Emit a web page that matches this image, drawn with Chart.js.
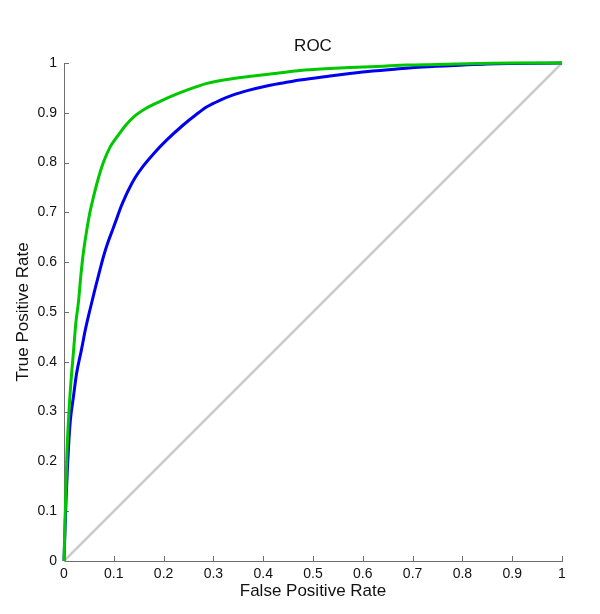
<!DOCTYPE html>
<html>
<head>
<meta charset="utf-8">
<script src="https://cdn.jsdelivr.net/npm/chart.js@4/dist/chart.umd.min.js"></script>
<style>
  body { margin: 0; background: #fff; }
</style>
</head>
<body>
<canvas id="roc" width="600" height="614"></canvas>
<script>
// valores
const tickVals = [0, 0.1, 0.2, 0.3, 0.4, 0.5, 0.6, 0.7, 0.8, 0.9, 1];
const tickLabels = ['0', '0.1', '0.2', '0.3', '0.4', '0.5', '0.6', '0.7', '0.8', '0.9', '1'];
const titulo = 'ROC';

const greenFpr = [0, 0.002, 0.004, 0.006, 0.010, 0.014, 0.019, 0.024, 0.029, 0.034, 0.039, 0.045, 0.052, 0.059,
  0.068, 0.079, 0.093, 0.109, 0.124, 0.139, 0.165, 0.193, 0.215, 0.240, 0.265, 0.287, 0.327, 0.38, 0.44,
  0.474, 0.534, 0.574, 0.63, 0.688, 0.75, 0.83, 0.9, 1];
const greenTpr = [0, 0.08, 0.15, 0.22, 0.30, 0.36, 0.42, 0.48, 0.52, 0.575, 0.62, 0.66, 0.70, 0.73,
  0.765, 0.80, 0.832, 0.855, 0.875, 0.891, 0.909, 0.923, 0.933, 0.943, 0.952, 0.959, 0.967, 0.974, 0.981,
  0.985, 0.989, 0.991, 0.993, 0.996, 0.997, 0.999, 1, 1];

const blueFpr = [0, 0.002, 0.004, 0.007, 0.010, 0.013, 0.019, 0.025, 0.035, 0.043, 0.052, 0.062, 0.072, 0.080,
  0.089, 0.098, 0.106, 0.112, 0.119, 0.128, 0.143, 0.159, 0.180, 0.206, 0.240, 0.265, 0.287, 0.315, 0.340, 0.37,
  0.407, 0.44, 0.474, 0.534, 0.574, 0.62, 0.668, 0.72, 0.802, 0.85, 0.9, 1];
const blueTpr = [0, 0.06, 0.12, 0.19, 0.245, 0.285, 0.33, 0.375, 0.424, 0.465, 0.504, 0.545, 0.584, 0.614,
  0.642, 0.666, 0.688, 0.705, 0.722, 0.742, 0.770, 0.793, 0.818, 0.845, 0.876, 0.896, 0.912, 0.926, 0.936, 0.945,
  0.954, 0.960, 0.966, 0.974, 0.979, 0.984, 0.988, 0.992, 0.996, 0.998, 0.999, 1];

const diagFpr = [0, 1];
const diagTpr = [0, 1];

const fonte = "'Liberation Sans', Arial, Helvetica, sans-serif";
const corEixo = '#6e6e6e';

function pares(xs, ys) {
  return xs.map((v, i) => ({ x: v, y: ys[i] }));
}

// marcas dos ticks para dentro e titulo centrado na area do grafico
const marcas = {
  id: 'marcas',
  beforeDatasetsDraw(chart) {
    const ctx = chart.ctx;
    const sx = chart.scales.x;
    const sy = chart.scales.y;
    ctx.save();
    ctx.strokeStyle = corEixo;
    ctx.lineWidth = 1;
    ctx.beginPath();
    for (const t of sx.ticks) {
      const px = Math.round(sx.getPixelForValue(t.value)) + 0.5;
      ctx.moveTo(px, sy.bottom);
      ctx.lineTo(px, sy.bottom - 5);
    }
    for (const t of sy.ticks) {
      const py = Math.round(sy.getPixelForValue(t.value)) + 0.5;
      ctx.moveTo(sx.left, py);
      ctx.lineTo(sx.left + 5, py);
    }
    ctx.stroke();

    const a = chart.chartArea;
    ctx.fillStyle = '#111';
    ctx.font = '17px ' + fonte;
    ctx.textAlign = 'center';
    ctx.textBaseline = 'middle';
    ctx.fillText(titulo, (a.left + a.right) / 2, 46.8);
    ctx.restore();
  }
};

const eixo = (texto, pad) => ({
  type: 'linear',
  min: 0,
  max: 1,
  grid: { display: false, drawTicks: false },
  border: { display: true, color: corEixo, width: 1 },
  afterBuildTicks: (s) => { s.ticks = tickVals.map(v => ({ value: v })); },
  ticks: {
    color: '#111',
    font: { family: fonte, size: 14 },
    callback: (v) => tickLabels[tickVals.indexOf(v)],
    maxRotation: 0,
    autoSkip: false
  },
  title: {
    display: true,
    text: texto,
    color: '#111',
    font: { family: fonte, size: 17 },
    padding: pad
  }
});

const xEixo = eixo('False Positive Rate', { top: 0, bottom: 12 });
xEixo.ticks.padding = 5;
xEixo.afterFit = (s) => { s.height = 53; };

const yEixo = eixo('True Positive Rate', { top: 13, bottom: 0 });
yEixo.ticks.padding = 7;
yEixo.afterFit = (s) => { s.width = 64; };

const linha = { showLine: true, pointRadius: 0, clip: 4, cubicInterpolationMode: 'monotone' };

new Chart(document.getElementById('roc'), {
  type: 'scatter',
  data: {
    datasets: [
      { ...linha, data: pares(greenFpr, greenTpr), borderColor: '#00c800', borderWidth: 3 },
      { ...linha, data: pares(blueFpr, blueTpr), borderColor: '#0000f0', borderWidth: 3 },
      { ...linha, data: pares(diagFpr, diagTpr), borderColor: '#cccccc', borderWidth: 2.5 }
    ]
  },
  options: {
    responsive: false,
    animation: false,
    layout: { padding: { left: 0, right: 38, top: 63, bottom: 0 } },
    plugins: {
      legend: { display: false },
      tooltip: { enabled: false },
      title: { display: false }
    },
    scales: { x: xEixo, y: yEixo }
  },
  plugins: [marcas]
});
</script>
</body>
</html>
